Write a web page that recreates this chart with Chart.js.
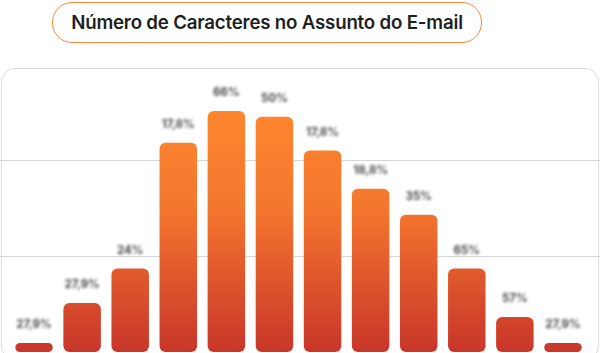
<!DOCTYPE html>
<html>
<head>
<meta charset="utf-8">
<script src="https://cdn.jsdelivr.net/npm/chart.js@4.4.1/dist/chart.umd.min.js"></script>
<style>
  html, body { margin: 0; padding: 0; background: #fff; }
  body { width: 600px; height: 353px; position: relative; overflow: hidden; font-family: Inter, sans-serif; }
  .titulo {
    position: absolute; left: 52px; top: 2px; width: 428px; height: 39px;
    border: 1.5px solid #f5893a; border-radius: 20px;
    display: flex; align-items: center; justify-content: center;
    font-size: 18.7px; font-weight: 600; color: #1f1f1f; letter-spacing: -0.2px;
  }
  .cartao {
    position: absolute; left: 1px; top: 68px; width: 596px; height: 290px;
    border: 1px solid #dcdcdc; border-radius: 14px;
  }
  #grafico { position: absolute; left: 0; top: 0; }
</style>
</head>
<body>
<div class="titulo">Número de Caracteres no Assunto do E-mail</div>
<div class="cartao"></div>
<canvas id="grafico" width="600" height="353"></canvas>
<script>
// Dados (altura relativa das barras)
const categorias = ['1', '2', '3', '4', '5', '6', '7', '8', '9', '10', '11', '12'];
const valores = [9.5, 51, 87, 218, 251, 245, 210, 170, 143, 87, 36.5, 9.5];
const rotulos = ['27,9%', '27,9%', '24%', '17,8%', '66%', '50%', '17,8%', '18,8%', '35%', '65%', '57%', '27,9%'];
const marcasY = [0, 100, 200, 300];

// Linhas de grade horizontais de ponta a ponta do cartão
const gradeLarga = {
  id: 'gradeLarga',
  beforeDatasetsDraw(chart) {
    const ctx = chart.ctx;
    const y = chart.scales.y;
    ctx.save();
    ctx.strokeStyle = '#d6d6d6';
    ctx.lineWidth = 1;
    marcasY.slice(1, 3).forEach(v => {
      const py = Math.round(y.getPixelForValue(v)) + 0.5;
      ctx.beginPath();
      ctx.moveTo(0, py);
      ctx.lineTo(chart.width, py);
      ctx.stroke();
    });
    ctx.restore();
  }
};

// Rótulos borrados acima das barras
const rotulosBorrados = {
  id: 'rotulosBorrados',
  afterDatasetsDraw(chart) {
    const ctx = chart.ctx;
    const meta = chart.getDatasetMeta(0);
    ctx.save();
    ctx.filter = 'blur(1.8px)';
    ctx.fillStyle = '#4a4a4a';
    ctx.font = 'bold 11.5px Inter, sans-serif';
    ctx.textAlign = 'center';
    ctx.textBaseline = 'middle';
    meta.data.forEach((bar, i) => {
      ctx.fillText(rotulos[i], bar.x, bar.y - 18);
    });
    ctx.restore();
  }
};

const ctx = document.getElementById('grafico').getContext('2d');

new Chart(ctx, {
  type: 'bar',
  data: {
    labels: categorias,
    datasets: [{
      data: valores,
      backgroundColor: function (context) {
        const area = context.chart.chartArea;
        if (!area) return '#f47a2e';
        const g = context.chart.ctx.createLinearGradient(0, 110, 0, area.bottom);
        g.addColorStop(0, '#fd862e');
        g.addColorStop(0.4, '#f4772e');
        g.addColorStop(1, '#c8362a');
        return g;
      },
      borderRadius: 6,
      borderSkipped: false,
      barPercentage: 0.78,
      categoryPercentage: 1
    }]
  },
  options: {
    responsive: false,
    animation: false,
    layout: { padding: { left: 10, right: 13, top: 64, bottom: 1 } },
    scales: {
      x: { display: false },
      y: {
        display: false,
        min: 0,
        max: 300,
        ticks: { stepSize: 100 }
      }
    },
    plugins: {
      legend: { display: false },
      tooltip: { enabled: false }
    }
  },
  plugins: [gradeLarga, rotulosBorrados]
});
</script>
</body>
</html>
